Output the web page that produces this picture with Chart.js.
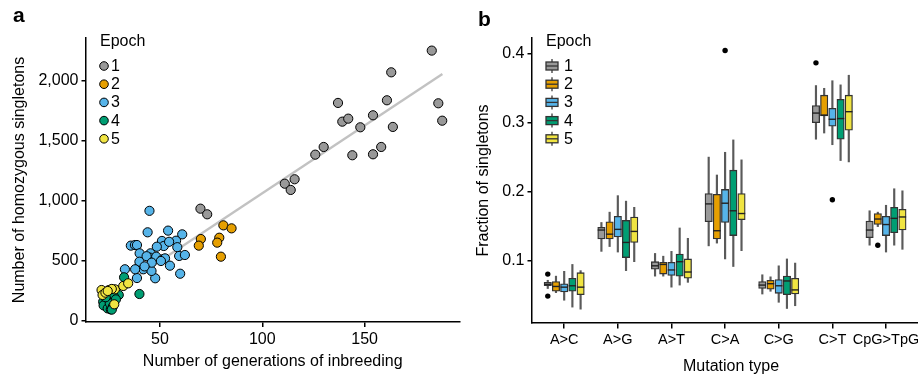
<!DOCTYPE html>
<html>
<head>
<meta charset="utf-8">
<script src="https://cdn.jsdelivr.net/npm/chart.js@4.4.0/dist/chart.umd.min.js"></script>
<style>
  html, body { margin: 0; padding: 0; background: #fff; overflow: hidden; width: 918px; height: 376px; }
  #wrapA { position: absolute; left: 0; top: 0; }
  #wrapB { position: absolute; left: 470px; top: 0; }
</style>
</head>
<body>
<div id="wrapA"><canvas id="chartA" width="465" height="376"></canvas></div>
<div id="wrapB"><canvas id="chartB" width="470" height="376"></canvas></div>
<script>
// ---- data: panel a (generations of inbreeding, homozygous singletons) ----
const epochs = ["1", "2", "3", "4", "5"];
const epochColors = ["#999999", "#E69F00", "#56B4E9", "#009E73", "#F0E442"];

const epoch1 = [[182.8,2253],[163.0,2072],[137.0,1817],[160.9,1839],[186.0,1814],[139.1,1661],[142.0,1686],
  [147.9,1614],[154.1,1714],[163.8,1617],[187.9,1669],[125.9,1386],[130.0,1450],[144.0,1381],[154.1,1389],
  [158.1,1450],[111.0,1144],[115.8,1181],[113.9,1092],[69.8,936],[73.1,889]];
const epoch2 = [[81.0,797],[85.0,772],[70.0,683],[69.0,628],[79.0,694],[78.0,653],[79.8,536]];
const epoch3 = [[44.9,918],[44.0,739],[54.0,753],[60.9,722],[35.8,628],[37.8,633],[38.8,633],[51.0,667],
  [57.9,669],[51.9,625],[48.5,619],[54.5,660],[58.5,615],[40.1,564],[45.4,564],[45.1,528],[48.2,536],
  [51.3,514],[52.5,522],[59.4,542],[62.2,550],[59.9,394],[47.7,356],[38.8,358],[32.9,431],[40.2,467],
  [40.0,494],[41.9,431],[45.9,417],[54.9,461],[43.5,540],[37.9,431],[50.5,500],[46.0,486],[42.5,455]];
const epoch4 = [[32.5,364],[40.0,225],[29.9,217],[27.5,205],[22.3,161],[24.0,175],[22.5,130],[24.5,105],
  [26.0,97],[25.5,148],[27.0,120],[28.5,180],[23.5,198],[26.5,95]];
const epoch5 = [[21.5,258],[25.1,258],[28.0,264],[22.0,217],[32.1,292],[34.5,314],[27.7,139],[23.4,236],
  [26.5,267],[24.5,250]];
const epochPoints = [epoch1, epoch2, epoch3, epoch4, epoch5];

const fitLineX = [22, 188];
const fitLineY = [184, 2059];

const ticksAX = [50, 100, 150];
const ticksAY = [0, 500, 1000, 1500, 2000];

// ---- data: panel b (fraction of singletons by mutation type), rows = epochs ----
const mutationTypes = ["A>C", "A>G", "A>T", "C>A", "C>G", "C>T", "CpG>TpG"];
const whiskerLow = [
  [0.059,0.113,0.077,0.121,0.051,0.276,0.122],
  [0.053,0.120,0.077,0.125,0.055,0.285,0.149],
  [0.042,0.112,0.061,0.102,0.039,0.268,0.112],
  [0.032,0.085,0.064,0.091,0.030,0.245,0.122],
  [0.029,0.098,0.068,0.114,0.034,0.243,0.116]];
const boxLow = [
  [0.063,0.131,0.087,0.156,0.059,0.300,0.133],
  [0.055,0.131,0.080,0.131,0.058,0.310,0.152],
  [0.054,0.134,0.078,0.155,0.052,0.295,0.136],
  [0.055,0.104,0.077,0.136,0.050,0.276,0.140],
  [0.050,0.126,0.074,0.159,0.051,0.289,0.144]];
const medians = [
  [0.065,0.144,0.092,0.182,0.064,0.314,0.144],
  [0.062,0.138,0.094,0.143,0.066,0.311,0.160],
  [0.061,0.145,0.086,0.183,0.063,0.305,0.152],
  [0.063,0.126,0.098,0.172,0.070,0.306,0.161],
  [0.061,0.142,0.083,0.168,0.057,0.316,0.163]];
const boxHigh = [
  [0.068,0.148,0.098,0.197,0.069,0.325,0.157],
  [0.069,0.156,0.097,0.196,0.071,0.340,0.168],
  [0.066,0.164,0.097,0.203,0.072,0.321,0.164],
  [0.074,0.158,0.109,0.231,0.077,0.334,0.177],
  [0.082,0.163,0.102,0.197,0.074,0.340,0.174]];
const whiskerHigh = [
  [0.071,0.155,0.110,0.250,0.079,0.354,0.172],
  [0.077,0.170,0.106,0.224,0.076,0.350,0.170],
  [0.084,0.194,0.113,0.257,0.092,0.361,0.180],
  [0.094,0.186,0.147,0.275,0.102,0.355,0.204],
  [0.085,0.177,0.132,0.246,0.096,0.369,0.201]];
// [mutation type index, epoch index, value]
const outliers = [[0,0,0.080],[0,0,0.048],[3,2,0.405],[5,0,0.387],[5,2,0.188],[6,1,0.122]];
const ticksBY = [0.1, 0.2, 0.3, 0.4];

const FONT = "'Liberation Sans', Arial, Helvetica, sans-serif";
Chart.defaults.font.family = FONT;
Chart.defaults.color = "#000";

function axisGrid(len) {
  return { display: true, drawOnChartArea: false, drawTicks: true, tickLength: len,
    color: "#000", lineWidth: 1.5, offset: false };
}
const axisBorder = { display: true, color: "#000", width: 1.5 };

// ---------------- panel a ----------------
const legendA = {
  id: "legendA",
  afterDraw(chart) {
    const ctx = chart.ctx;
    ctx.save();
    ctx.font = "16px " + FONT;
    ctx.fillStyle = "#000";
    ctx.textAlign = "left";
    ctx.textBaseline = "middle";
    ctx.fillText("Epoch", 100, 42);
    epochs.forEach((e, i) => {
      const y = 66 + i * 18.2;
      ctx.beginPath();
      ctx.arc(104, y, 4.3, 0, Math.PI * 2);
      ctx.fillStyle = epochColors[i];
      ctx.fill();
      ctx.lineWidth = 1;
      ctx.strokeStyle = "#000";
      ctx.stroke();
      ctx.fillStyle = "#000";
      ctx.fillText(e, 111, y + 0.5);
    });
    ctx.font = "bold 21px " + FONT;
    ctx.textBaseline = "alphabetic";
    ctx.fillText("a", 13, 22);
    ctx.restore();
  }
};

const scatterSets = epochPoints.map((pts, i) => ({
  type: "scatter",
  label: "Epoch " + epochs[i],
  data: pts.map(p => ({ x: p[0], y: p[1] })),
  backgroundColor: epochColors[i],
  borderColor: "#000",
  borderWidth: 1,
  pointRadius: 4.6,
  order: 5 - i
}));

new Chart(document.getElementById("chartA"), {
  type: "scatter",
  data: {
    datasets: [
      ...scatterSets,
      {
        type: "line",
        label: "fit",
        data: fitLineX.map((x, i) => ({ x: x, y: fitLineY[i] })),
        borderColor: "#c2c2c2",
        borderWidth: 2.4,
        pointRadius: 0,
        order: 10
      }
    ]
  },
  options: {
    responsive: false,
    animation: false,
    events: [],
    layout: { padding: { left: 0, right: 5, top: 38, bottom: 0 } },
    plugins: { legend: { display: false }, tooltip: { enabled: false } },
    scales: {
      x: {
        type: "linear", min: 13.9, max: 196.3,
        grid: axisGrid(5), border: axisBorder,
        afterBuildTicks: s => { s.ticks = ticksAX.map(v => ({ value: v })); },
        ticks: { font: { size: 16 }, padding: 3, maxRotation: 0 },
        title: { display: true, text: "Number of generations of inbreeding", font: { size: 16 },
          padding: { top: 0, bottom: 4.7 } },
        afterFit: s => { s.height = 54; }
      },
      y: {
        type: "linear", min: -8.3, max: 2358,
        grid: axisGrid(4.5), border: axisBorder,
        afterBuildTicks: s => { s.ticks = ticksAY.map(v => ({ value: v })); },
        ticks: { font: { size: 16 }, padding: 3, callback: v => v.toLocaleString("en-US") },
        title: { display: true, text: "Number of homozygous singletons", font: { size: 16 },
          padding: { top: 10, bottom: 0 } },
        afterFit: s => { s.width = 86; }
      }
    }
  },
  plugins: [legendA]
});

// ---------------- panel b ----------------
const slot = 0.153;

const legendB = {
  id: "legendB",
  afterDraw(chart) {
    const ctx = chart.ctx;
    ctx.save();
    ctx.font = "16px " + FONT;
    ctx.fillStyle = "#000";
    ctx.textAlign = "left";
    ctx.textBaseline = "middle";
    ctx.fillText("Epoch", 76, 42);
    epochs.forEach((e, i) => {
      const y = 66 + i * 18.2;
      ctx.strokeStyle = "#555";
      ctx.lineWidth = 1.5;
      ctx.beginPath();
      ctx.moveTo(82, y - 7);
      ctx.lineTo(82, y + 7);
      ctx.stroke();
      ctx.fillStyle = epochColors[i];
      ctx.fillRect(76, y - 4, 12, 8);
      ctx.strokeStyle = "#333";
      ctx.lineWidth = 1.3;
      ctx.strokeRect(76, y - 4, 12, 8);
      ctx.beginPath();
      ctx.moveTo(76, y);
      ctx.lineTo(88, y);
      ctx.stroke();
      ctx.fillStyle = "#000";
      ctx.fillText(e, 94, y + 0.5);
    });
    ctx.font = "bold 21px " + FONT;
    ctx.textBaseline = "alphabetic";
    ctx.fillText("b", 8, 26);
    ctx.restore();
  }
};

const whiskerSets = epochs.map((e, i) => ({
  type: "bar",
  label: "whisker " + e,
  data: mutationTypes.map((m, c) => ({ x: c + (i - 2) * slot, y: [whiskerLow[i][c], whiskerHigh[i][c]] })),
  backgroundColor: "#5a5a5a",
  borderWidth: 0,
  barThickness: 1.5,
  grouped: false,
  order: 10
}));

const boxSets = epochs.map((e, i) => ({
  type: "bar",
  label: "Epoch " + e,
  data: mutationTypes.map((m, c) => ({ x: c + (i - 2) * slot, y: [boxLow[i][c], boxHigh[i][c]] })),
  backgroundColor: epochColors[i],
  borderColor: "#333",
  borderWidth: 1.3,
  borderSkipped: false,
  barThickness: 7.4,
  grouped: false,
  order: 5
}));

const medianSets = epochs.map((e, i) => ({
  type: "scatter",
  label: "median " + e,
  data: mutationTypes.map((m, c) => ({ x: c + (i - 2) * slot, y: medians[i][c] })),
  pointStyle: "line",
  pointRadius: 3.7,
  borderColor: "#222",
  borderWidth: 1.4,
  order: 2
}));

const outlierSet = {
  type: "scatter",
  label: "outliers",
  data: outliers.map(o => ({ x: o[0] + (o[1] - 2) * slot, y: o[2] })),
  backgroundColor: "#000",
  borderColor: "#000",
  borderWidth: 0,
  pointRadius: 2.7,
  order: 1
};

new Chart(document.getElementById("chartB"), {
  type: "bar",
  data: { datasets: [...whiskerSets, ...boxSets, ...medianSets, outlierSet] },
  options: {
    responsive: false,
    animation: false,
    events: [],
    layout: { padding: { left: 0, right: 10, top: 38, bottom: 0 } },
    plugins: { legend: { display: false }, tooltip: { enabled: false } },
    scales: {
      x: {
        type: "linear", min: -0.6, max: 6.82, offset: false,
        grid: axisGrid(5.5), border: axisBorder,
        afterBuildTicks: s => { s.ticks = mutationTypes.map((m, i) => ({ value: i })); },
        ticks: { font: { size: 14.5 }, padding: 3, maxRotation: 0, autoSkip: false,
          callback: v => mutationTypes[v] },
        title: { display: true, text: "Mutation type", font: { size: 16 }, padding: { top: 0, bottom: 0 } },
        afterFit: s => { s.height = 53; }
      },
      y: {
        type: "linear", min: 0.0089, max: 0.4231,
        grid: axisGrid(4.5), border: axisBorder,
        afterBuildTicks: s => { s.ticks = ticksBY.map(v => ({ value: v })); },
        ticks: { font: { size: 16 }, padding: 3, callback: v => v.toFixed(1) },
        title: { display: true, text: "Fraction of singletons", font: { size: 16 },
          padding: { top: 3.7, bottom: 0 } },
        afterFit: s => { s.width = 62; }
      }
    }
  },
  plugins: [legendB]
});
</script>
</body>
</html>
